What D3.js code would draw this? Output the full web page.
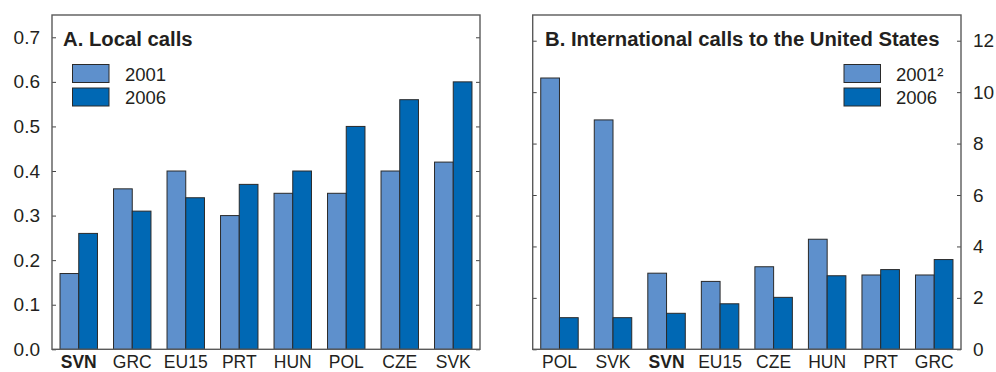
<!DOCTYPE html>
<html>
<head>
<meta charset="utf-8">
<script src="https://cdn.jsdelivr.net/npm/d3@7"></script>
<style>
  html, body { margin: 0; padding: 0; background: #fff; }
  svg { display: block; }
  text { font-family: "Liberation Sans", Arial, Helvetica, sans-serif; fill: #231f20; }
</style>
</head>
<body>
<svg id="chart" width="996" height="372"></svg>
<script>
// Panel A: local call prices
const localCategories = ["SVN", "GRC", "EU15", "PRT", "HUN", "POL", "CZE", "SVK"];
const local2001 = [0.17, 0.36, 0.40, 0.30, 0.35, 0.35, 0.40, 0.42];
const local2006 = [0.26, 0.31, 0.34, 0.37, 0.40, 0.50, 0.56, 0.60];
const localTicks = [0, 0.1, 0.2, 0.3, 0.4, 0.5, 0.6, 0.7];

// Panel B: international calls to the United States
const intlCategories = ["POL", "SVK", "SVN", "EU15", "CZE", "HUN", "PRT", "GRC"];
const intl2001 = [10.55, 8.92, 2.96, 2.64, 3.21, 4.28, 2.89, 2.89];
const intl2006 = [1.23, 1.23, 1.40, 1.77, 2.02, 2.86, 3.10, 3.49];
const intlTicks = [0, 2, 4, 6, 8, 10, 12];

const seriesNames = ["2001", "2006"];
const seriesNamesB = ["2001\u00B2", "2006"];
const colors = ["#5e90cc", "#0068b4"];
const highlight = "SVN";

const svg = d3.select("#chart");

function panel(opts) {
  const { left, right, top, bottom, cats, s1, s2, yMax, ticks, fmt, axisSide,
          title, legendNames, legendX, legendTextX } = opts;
  const g = svg.append("g");

  const x0 = d3.scaleBand().domain(cats).range([left, right])
    .paddingInner(0.3).paddingOuter(0.15);
  const x1 = d3.scaleBand().domain([0, 1]).range([0, x0.bandwidth()]);
  const y = d3.scaleLinear().domain([0, yMax]).range([bottom, top]);

  // bars
  const rows = cats.map((c, i) => ({ c, v: [s1[i], s2[i]] }));
  const groups = g.selectAll("g.grp").data(rows).join("g")
    .attr("transform", d => `translate(${x0(d.c)},0)`);
  groups.selectAll("rect").data(d => d.v.map((v, k) => ({ v, k }))).join("rect")
    .attr("x", d => x1(d.k))
    .attr("width", x1.bandwidth())
    .attr("y", d => y(d.v))
    .attr("height", d => bottom - y(d.v))
    .attr("fill", d => colors[d.k])
    .attr("stroke", "#2a2a2a")
    .attr("stroke-width", 1);

  // inward ticks on both sides
  const axL = d3.axisRight(y).tickValues(ticks).tickSize(4).tickFormat("");
  const axR = d3.axisLeft(y).tickValues(ticks).tickSize(4).tickFormat("");
  g.append("g").attr("transform", `translate(${left},0)`).call(axL)
    .call(a => a.select(".domain").remove())
    .selectAll("line").attr("stroke", "#444");
  g.append("g").attr("transform", `translate(${right},0)`).call(axR)
    .call(a => a.select(".domain").remove())
    .selectAll("line").attr("stroke", "#444");

  // tick labels
  const lab = axisSide === "left"
    ? d3.axisLeft(y).tickValues(ticks).tickSize(0).tickPadding(12).tickFormat(fmt)
    : d3.axisRight(y).tickValues(ticks).tickSize(0).tickPadding(12).tickFormat(fmt);
  g.append("g").attr("transform", `translate(${axisSide === "left" ? left : right},0)`)
    .call(lab)
    .call(a => a.select(".domain").remove())
    .selectAll("text")
    .style("font-size", "19px")
    .style("font-family", "'Liberation Sans', Arial, sans-serif")
    .attr("fill", "#231f20");

  // category labels
  const xa = d3.axisBottom(x0).tickSize(0).tickPadding(6);
  g.append("g").attr("transform", `translate(0,${bottom})`).call(xa)
    .call(a => a.select(".domain").remove())
    .selectAll("text")
    .style("font-size", "17.5px")
    .style("font-family", "'Liberation Sans', Arial, sans-serif")
    .style("font-weight", d => d === highlight ? "bold" : "normal")
    .attr("fill", "#231f20");

  // frame
  g.append("rect")
    .attr("x", left).attr("y", top)
    .attr("width", right - left).attr("height", bottom - top)
    .attr("fill", "none").attr("stroke", "#5a5a5a").attr("stroke-width", 1.4);

  // title
  g.append("text").attr("x", opts.titleX).attr("y", 45.5)
    .style("font-size", "20.3px").style("font-weight", "bold").text(title);

  // legend
  legendNames.forEach((n, k) => {
    g.append("rect").attr("x", legendX).attr("y", 64.5 + k * 23.5)
      .attr("width", 36.5).attr("height", 18)
      .attr("fill", colors[k]).attr("stroke", "#2a2a2a").attr("stroke-width", 1);
    g.append("text").attr("x", legendTextX).attr("y", 80.5 + k * 23.5)
      .style("font-size", "18.5px").text(n);
  });
}

panel({
  left: 52, right: 480, top: 15, bottom: 349.3,
  cats: localCategories, s1: local2001, s2: local2006,
  yMax: 0.75, ticks: localTicks, fmt: d3.format(".1f"), axisSide: "left",
  title: "A. Local calls", titleX: 63,
  legendNames: seriesNames, legendX: 72.5, legendTextX: 125
});

panel({
  left: 532.7, right: 961, top: 15, bottom: 349.3,
  cats: intlCategories, s1: intl2001, s2: intl2006,
  yMax: 13, ticks: intlTicks, fmt: d3.format("d"), axisSide: "right",
  title: "B. International calls to the United States", titleX: 545,
  legendNames: seriesNamesB, legendX: 844, legendTextX: 896
});
</script>
</body>
</html>
